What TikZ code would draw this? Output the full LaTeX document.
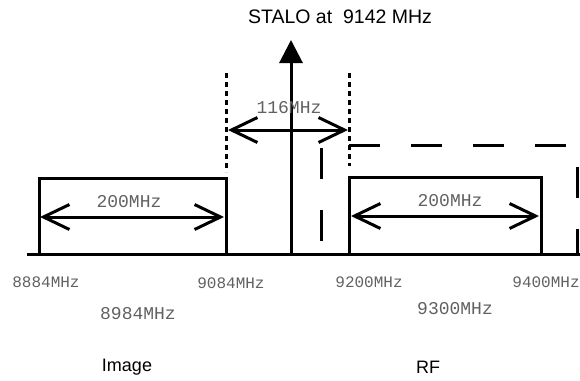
\documentclass[tikz,border=0pt]{standalone}
\usepackage{fontspec}
\setmainfont{Liberation Sans}
\newfontfamily\monof{Liberation Mono}
\usetikzlibrary{arrows.meta}
\begin{document}
\begin{tikzpicture}[x=1pt,y=-1pt,line width=3pt,
  freq/.style={font=\monof\fontsize{16}{16}\selectfont,text=black!62,inner sep=0pt},
  bigfreq/.style={font=\monof\fontsize{18}{18}\selectfont,text=black!62,inner sep=0pt},
  caption/.style={font=\fontsize{18}{18}\selectfont,inner sep=0pt},
  barb/.tip={Straight Barb[length=26pt,width=25pt,line width=3pt]},
  dimarrow/.style={barb-barb},
  band/.style={line width=3pt},
  dotline/.style={dash pattern=on 5pt off 4pt},
  dashline/.style={dash pattern=on 31pt off 31pt},
]
\useasboundingbox (0,0) rectangle (580,380);
% coordinates
\coordinate (b0) at (27,254);
\coordinate (b1) at (580,254);
\coordinate (l0) at (39,254);
\coordinate (l1) at (39,178);
\coordinate (l2) at (226,178);
\coordinate (l3) at (226,254);
\coordinate (r0) at (349,254);
\coordinate (r1) at (349,177);
\coordinate (r2) at (541,177);
\coordinate (r3) at (541,254);
\coordinate (d1a) at (226,73);
\coordinate (d1b) at (226,172);
\coordinate (d2a) at (349,73);
\coordinate (d2b) at (349,166);
\coordinate (e0) at (321,148);
\coordinate (e1) at (321,254);
\coordinate (e2) at (349,145);
\coordinate (e3) at (577,145);
\coordinate (e4) at (577,167);
\coordinate (e5) at (577,254);
\coordinate (s0) at (291,254);
\coordinate (s1) at (291,40);
\coordinate (a1) at (228,130);
\coordinate (a2) at (348,130);
\coordinate (la) at (40,217);
\coordinate (lb) at (224,217);
\coordinate (ra) at (351,216);
\coordinate (rb) at (539,216);

% baseline and bands
\draw (b0) -- (b1);
\draw[band] (l0) -- (l1) -- (l2) -- (l3);
\draw[band] (r0) -- (r1) -- (r2) -- (r3);
% dotted markers
\draw[dotline] (d1a) -- (d1b);
\draw[dotline] (d2a) -- (d2b);
% dashed box
\draw[dashline] (e0) -- (e1);
\draw[dashline] (e2) -- (e3);
\draw[dashline] (e4) -- (e5);
% STALO
\draw[-{Triangle[length=23pt,width=23pt]}] (s0) -- (s1);
\node[caption,font=\fontsize{19.5}{19.5}\selectfont] (stalo) at (340,17) {STALO at~~9142 MHz};
% dimension arrows
\draw[dimarrow] (a1) -- (a2);
\node[bigfreq] (w116) at (289,108) {116MHz};
\draw[dimarrow] (la) -- (lb);
\node[bigfreq] (wl) at (129,202) {200MHz};
\draw[dimarrow] (ra) -- (rb);
\node[bigfreq] (wr) at (450,201) {200MHz};
% frequency labels
\node[freq] (f8884) at (46,282) {8884MHz};
\node[freq] (f9084) at (231,283) {9084MHz};
\node[freq] (f9200) at (369,282) {9200MHz};
\node[freq] (f9400) at (546,282) {9400MHz};
\node[bigfreq] (f8984) at (138,314) {8984MHz};
\node[bigfreq] (f9300) at (455,309) {9300MHz};
% captions
\node[caption] (img) at (127,367) {Image};
\node[caption] (rf) at (428,367) {RF};
\end{tikzpicture}
\end{document}
